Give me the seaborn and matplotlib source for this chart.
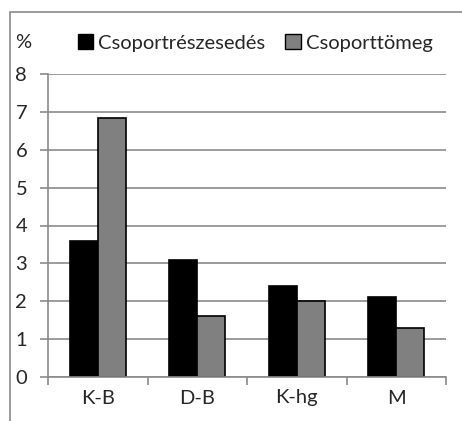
import pandas as pd
import seaborn as sns
import matplotlib.pyplot as plt
from matplotlib.patches import Rectangle, Patch

# adatok
kategoriak = ["K-B", "D-B", "K-hg", "M"]
reszesedes = [3.6, 3.1, 2.4, 2.1]
tomeg = [6.85, 1.6, 2.0, 1.3]
sorozatok = ["Csoportrészesedés", "Csoporttömeg"]

df = pd.DataFrame({
    "kat": kategoriak * 2,
    "ertek": reszesedes + tomeg,
    "sorozat": [sorozatok[0]] * 4 + [sorozatok[1]] * 4,
})

sns.set_style("white")
plt.rcParams["font.family"] = ["Lato", "DejaVu Sans"]
fs = 14.5

fig = plt.figure(figsize=(4.62, 4.21), dpi=100)
ax = fig.add_axes([48 / 462, 1 - 377 / 421, 398 / 462, 303 / 421])

sns.barplot(data=df, x="kat", y="ertek", hue="sorozat", order=kategoriak,
            hue_order=sorozatok, palette=["black", "#808080"], width=0.56,
            edgecolor="black", linewidth=1.2, saturation=1, ax=ax, legend=False)

ax.set_ylim(0, 8)
ax.set_xlim(-0.5, 3.5)
ax.set_yticks(range(9))
ax.yaxis.grid(True, color="#8a8a8a", linewidth=1.2)
ax.set_axisbelow(True)
ax.set_xlabel("")
ax.set_ylabel("")
for s in ["top", "right"]:
    ax.spines[s].set_visible(False)
for s in ["left", "bottom"]:
    ax.spines[s].set_color("#8a8a8a")
    ax.spines[s].set_linewidth(1.2)
ax.tick_params(axis="y", length=6, width=1.2, color="#8a8a8a", labelsize=fs, pad=9, left=True)
ax.tick_params(axis="x", which="major", length=0, labelsize=fs, pad=9)
ax.set_xticks([-0.5, 0.5, 1.5, 2.5, 3.5], minor=True)
ax.tick_params(axis="x", which="minor", length=6, width=1.2, color="#8a8a8a", bottom=True)

# legenda
handles = [Patch(facecolor="black", edgecolor="black"),
           Patch(facecolor="#808080", edgecolor="black")]
fig.legend(handles, sorozatok, loc="center left", bbox_to_anchor=(68 / 462, 1 - 43 / 421),
           ncol=2, frameon=False, fontsize=fs, handlelength=0.75, handleheight=0.75,
           handletextpad=0.25, columnspacing=1.0, borderpad=0)
fig.text(15 / 462, 1 - 43 / 421, "%", fontsize=fs, va="center", ha="left")

# külső keret
fig.patches.append(Rectangle((10 / 462, -0.1), 1.2, 1 - 12 / 421 + 0.1,
                             transform=fig.transFigure, fill=False,
                             edgecolor="#8a8a8a", linewidth=1.2))

fig.savefig("out.png", dpi=100)
